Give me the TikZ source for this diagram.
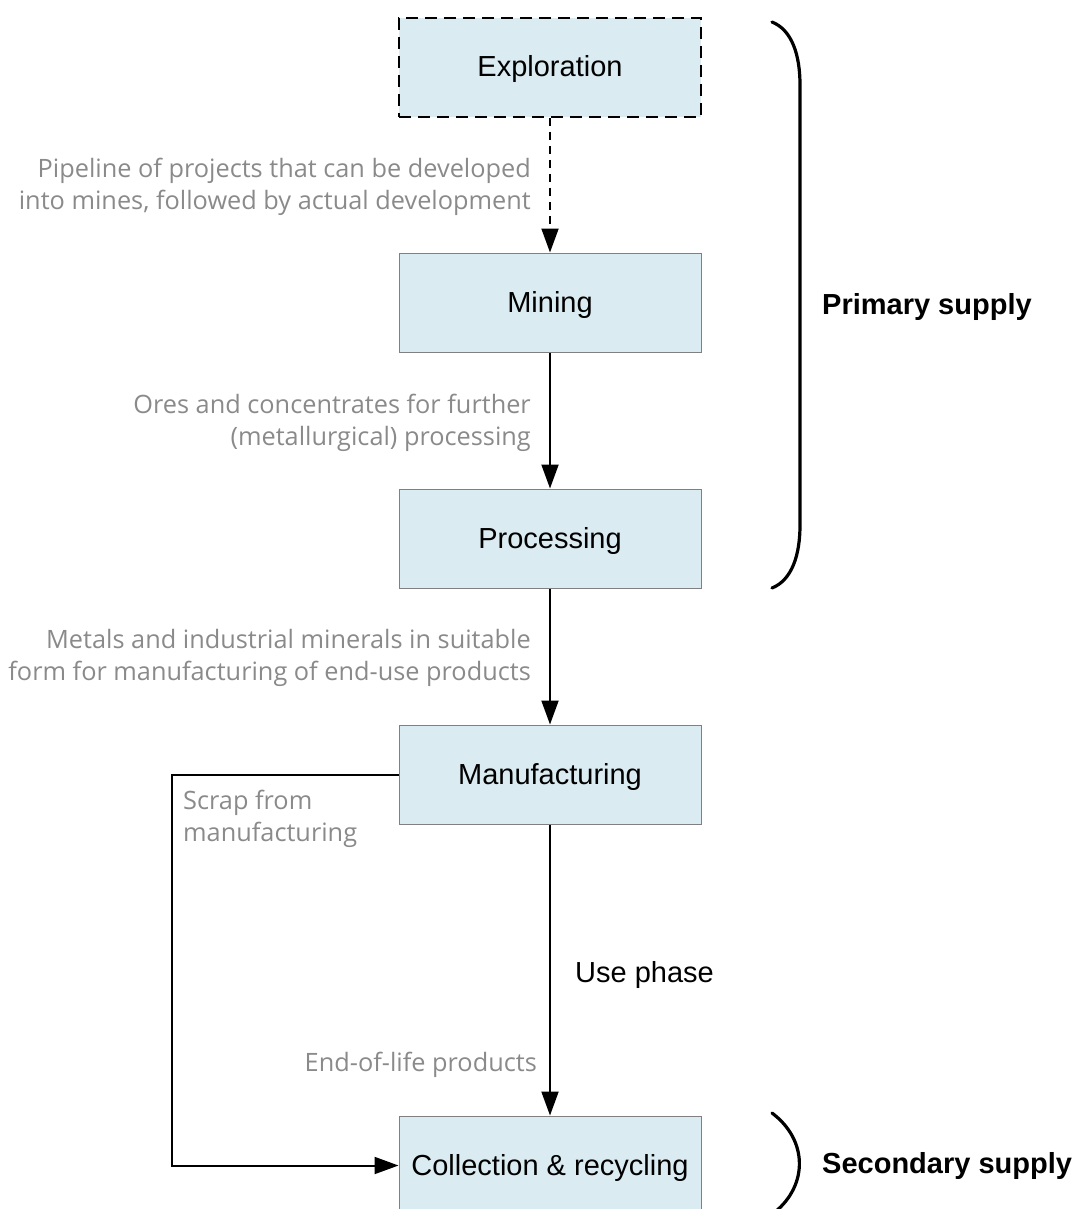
\documentclass[tikz,border=0pt]{standalone}
\usepackage{fontspec}
\setmainfont{Liberation Sans}
\newfontfamily\grayfont{Open Sans}
\usetikzlibrary{arrows.meta}
\definecolor{boxfill}{HTML}{DAECF2}
\definecolor{boxline}{HTML}{808080}
\definecolor{labelgray}{HTML}{8A8A8A}
\tikzset{
  stage/.style={draw=boxline, line width=1pt, fill=boxfill, minimum width=302pt, minimum height=99pt, inner sep=0pt, text height=25pt, text depth=6pt, font=\fontsize{29}{34}\selectfont},
  stagedash/.style={stage, draw=black, line width=2pt, dash pattern=on 12pt off 7pt},
  arr/.style={line width=2pt, -{Triangle[length=24pt,width=17pt]}},
  flowlabel/.style={text=labelgray, inner sep=0pt, font=\grayfont\fontsize{25.3}{32}\selectfont},
  bracket/.style={line width=3.2pt, line cap=round},
  supply/.style={inner sep=0pt, anchor=west, font=\bfseries\fontsize{29}{34}\selectfont},
}
\begin{document}
\begin{tikzpicture}[x=1pt,y=-1pt]
\useasboundingbox (0,0) rectangle (1077,1209);
\clip (0,0) rectangle (1077,1209);
\node[stagedash] (expl) at (550,67.5) {Exploration};
\node[stage] (mine) at (550,302.5) {Mining};
\node[stage] (proc) at (550,538.5) {Processing};
\node[stage] (manu) at (550,774.5) {Manufacturing};
\node[stage] (coll) at (550,1165.5) {Collection \& recycling};
\coordinate (scrapcorner) at (172,774.5);

\draw[arr, dash pattern=on 8pt off 6pt] (expl) -- (mine);
\draw[arr] (mine) -- (proc);
\draw[arr] (proc) -- (manu);
\draw[arr] (manu) -- (coll);
\draw[arr] (manu.west) -- (scrapcorner) |- (coll.west);

\node[flowlabel, align=right, anchor=east] (l1) at (531,187) {Pipeline of projects that can be developed\\into mines, followed by actual development};
\node[flowlabel, align=right, anchor=east] (l2) at (531,423) {Ores and concentrates for further\\(metallurgical) processing};
\node[flowlabel, align=right, anchor=east] (l3) at (531,658) {Metals and industrial minerals in suitable\\form for manufacturing of end-use products};
\node[flowlabel, align=left, anchor=west] (l4) at (183,819) {Scrap from\\manufacturing};
\node[flowlabel, anchor=east] (l5) at (537,1065) {End-of-life products};
\node[inner sep=0pt, anchor=west, font=\fontsize{29}{34}\selectfont] (use) at (575,975) {Use phase};

\draw[bracket] (772,22) .. controls (792,30) and (800,55) .. (800,85) -- (800,525) .. controls (800,555) and (792,580) .. (772,588);
\draw[bracket] (772,1113) .. controls (808,1140) and (808,1185) .. (775,1212);
\node[supply] (prim) at (822,307) {Primary supply};
\node[supply] (sec) at (822,1166) {Secondary supply};
\end{tikzpicture}
\end{document}
